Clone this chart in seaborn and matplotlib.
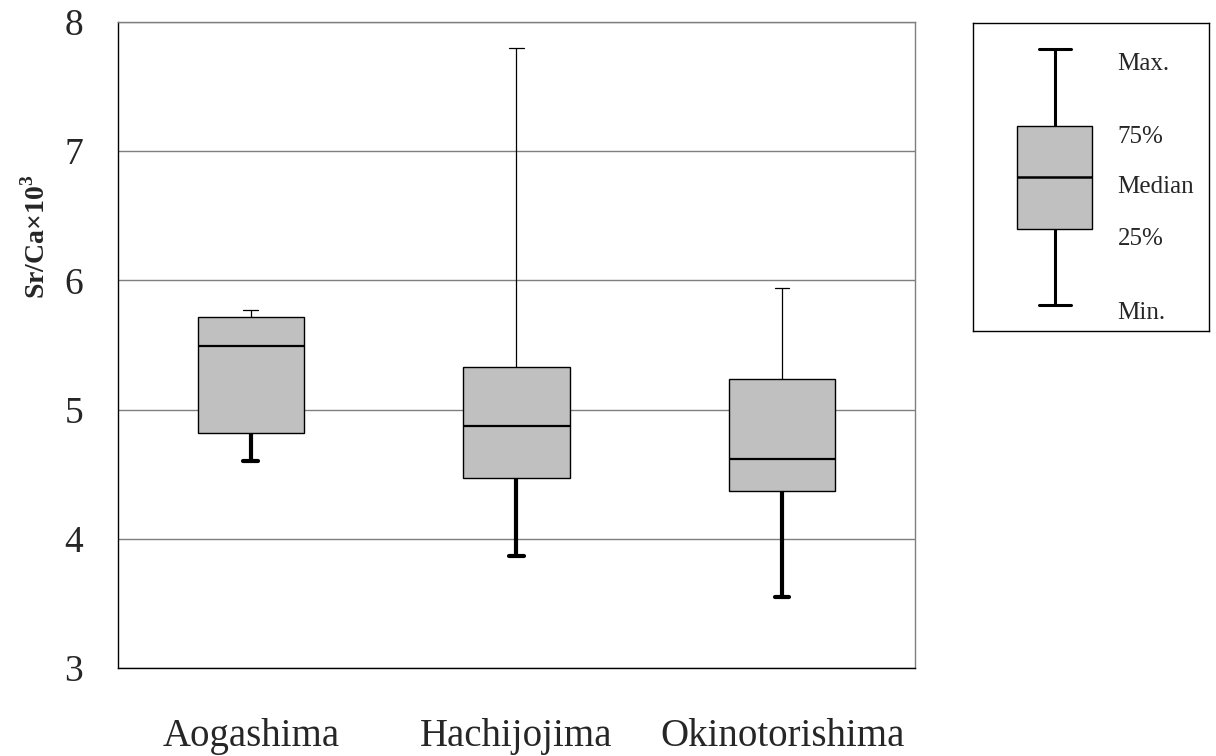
import numpy as np
import pandas as pd
import matplotlib
matplotlib.use("Agg")
import matplotlib.pyplot as plt
import seaborn as sns

# five-number summaries: min, 25%, median, 75%, max
sites = ["Aogashima", "Hachijojima", "Okinotorishima"]
sr_min = [4.60, 3.87, 3.55]
sr_q1 = [4.82, 4.47, 4.37]
sr_med = [5.49, 4.875, 4.615]
sr_q3 = [5.72, 5.33, 5.24]
sr_max = [5.77, 7.80, 5.94]
y_ticks = [3, 4, 5, 6, 7, 8]

# values for the explanatory key box on the right
key_values = [1, 4, 6, 8, 11]
key_labels = ["Min.", "25%", "Median", "75%", "Max."]
key_label_y = [0.69, 3.61, 5.61, 7.56, 10.43]

sns.set_style("white")
plt.rcParams["font.family"] = ["Liberation Serif", "DejaVu Serif"]
plt.rcParams["mathtext.fontset"] = "custom"
plt.rcParams["mathtext.rm"] = "Liberation Serif"
plt.rcParams["mathtext.bf"] = "Liberation Serif:bold"

# with 5 values the linear percentiles hit the summary values exactly
rows = []
for i, s in enumerate(sites):
    for v in (sr_min[i], sr_q1[i], sr_med[i], sr_q3[i], sr_max[i]):
        rows.append({"site": s, "value": v})
df = pd.DataFrame(rows)

fig = plt.figure(figsize=(12.16, 7.56), dpi=100)
ax = fig.add_axes([0.097, 0.1164, 0.6554, 0.8545])

box_kw = dict(whis=(0, 100), fill=True, color="#C0C0C0", saturation=1,
              linecolor="black", linewidth=1.0, showfliers=False)
sns.boxplot(data=df, x="site", y="value", order=sites, width=0.4,
            capwidths=0.055, ax=ax,
            medianprops=dict(color="black", linewidth=1.6), **box_kw)

# lower whiskers drawn heavy, upper ones thin (as in the original)
bp = ax.containers[0]
for k, (w, c) in enumerate(zip(bp.whiskers, bp.caps)):
    lw = 3.0 if k % 2 == 0 else 0.9
    w.set_linewidth(lw)
    c.set_linewidth(lw)
    w.set_solid_capstyle("butt")
    c.set_solid_capstyle("round")

ax.set_ylim(3, 8)
ax.set_xlim(-0.5, 2.5)
ax.set_yticks(y_ticks)
ax.set_yticklabels([str(t) for t in y_ticks])
ax.yaxis.grid(True, color="#7f7f7f", linewidth=1.0)
ax.set_axisbelow(True)
ax.tick_params(axis="y", length=0, pad=25, labelsize=27)
ax.tick_params(axis="x", which="major", length=0, pad=36, labelsize=28)
ax.set_xticks([0.5, 1.5], minor=True)
ax.tick_params(axis="x", which="minor", direction="in", length=7,
               width=1.0, color="#555555")
ax.set_xlabel("")
ax.set_ylabel(r"Sr/Ca×10$^\mathbf{3}$", fontsize=20, fontweight="bold")
ax.yaxis.set_label_coords(-0.0846, 0.667)
for side in ["left", "bottom"]:
    ax.spines[side].set_color("black")
    ax.spines[side].set_linewidth(1.0)
for side in ["top", "right"]:
    ax.spines[side].set_color("#7f7f7f")
    ax.spines[side].set_linewidth(1.0)

# key
kax = fig.add_axes([0.800, 0.562, 0.194, 0.407])
sns.boxplot(y=key_values, width=0.8, capwidths=0.34, ax=kax,
            medianprops=dict(color="black", linewidth=1.8), **box_kw)
kbp = kax.containers[0]
for w, c in zip(kbp.whiskers, kbp.caps):
    w.set_linewidth(2.2)
    c.set_linewidth(2.2)
kax.set_xlim(-0.873, 1.643)
kax.set_ylim(0, 12)
kax.set_xticks([])
kax.set_yticks([])
kax.set_ylabel("")
for side in kax.spines.values():
    side.set_color("black")
    side.set_linewidth(1.0)
for lab, yy in zip(key_labels, key_label_y):
    kax.text(0.614, yy, lab, transform=kax.get_yaxis_transform(),
             fontsize=18, va="center", ha="left")

fig.savefig("out.png", dpi=100)
